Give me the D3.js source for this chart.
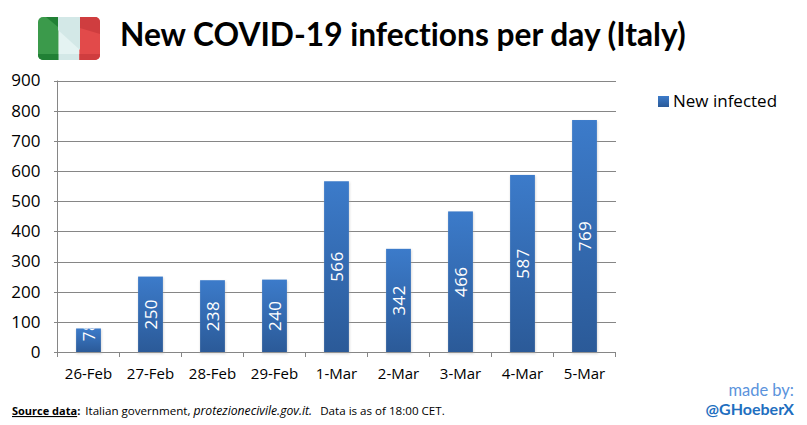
<!DOCTYPE html>
<html>
<head>
<meta charset="utf-8">
<script src="https://cdn.jsdelivr.net/npm/d3@7"></script>
<style>
body { margin: 0; background: #fff; }
text { font-family: "Open Sans", "Noto Sans", sans-serif; }
</style>
</head>
<body>
<script>
const days = ["26-Feb", "27-Feb", "28-Feb", "29-Feb", "1-Mar", "2-Mar", "3-Mar", "4-Mar", "5-Mar"];
const newInfected = [78, 250, 238, 240, 566, 342, 466, 587, 769];
const yTicks = [0, 100, 200, 300, 400, 500, 600, 700, 800, 900];

const w = 807;
const h = 425;

const svg = d3.select("body")
	.append("svg")
	.attr("width", w)
	.attr("height", h);

const xScale = d3.scaleBand()
	.domain(days)
	.range([57.5, 615.5])
	.paddingInner(0.6)
	.paddingOuter(0.3);

const yScale = d3.scaleLinear()
	.domain([0, 900])
	.range([352, 80.5]);

const defs = svg.append("defs");

const grad = defs.append("linearGradient")
	.attr("id", "barFill")
	.attr("x1", 0).attr("y1", 0).attr("x2", 0).attr("y2", 1);
grad.append("stop").attr("offset", "0%").attr("stop-color", "#3c7bca");
grad.append("stop").attr("offset", "100%").attr("stop-color", "#2b5a98");

const blur = defs.append("filter")
	.attr("id", "barShadow")
	.attr("x", "-30%").attr("width", "160%");
blur.append("feGaussianBlur").attr("stdDeviation", 1.2);

// gridlines + axes
const gridAxis = d3.axisLeft(yScale)
	.tickValues(yTicks)
	.tickSize(4)
	.tickFormat(d3.format("d"));

const yG = svg.append("g")
	.attr("transform", "translate(57.5, 0)")
	.call(gridAxis);

yG.selectAll(".tick line").clone()
	.attr("x1", 0)
	.attr("x2", 558)
	.attr("stroke", "#868686");

yG.selectAll("line")
	.attr("stroke", "#868686")
	.attr("shape-rendering", "crispEdges");
yG.select(".domain").attr("stroke", "#868686").attr("d", "M0,80.5V352");
yG.selectAll("text")
	.attr("x", -17)
	.attr("font-size", 17)
	.attr("fill", "#000");

const xG = svg.append("g")
	.attr("transform", "translate(0, 352)")
	.call(d3.axisBottom(xScale).tickSize(0).tickPadding(16));

xG.select(".domain").attr("stroke", "#868686");
xG.selectAll("text")
	.attr("font-size", 15)
	.attr("fill", "#000");

// tick marks sit between the categories
const step = xScale.step();
svg.append("g").selectAll("line")
	.data(d3.range(days.length + 1))
	.enter()
	.append("line")
	.attr("x1", (d) => 57.5 + d * step)
	.attr("x2", (d) => 57.5 + d * step)
	.attr("y1", 352)
	.attr("y2", 357)
	.attr("stroke", "#868686");

// soft shadow behind the bars
svg.append("g").selectAll("rect")
	.data(newInfected)
	.enter()
	.append("rect")
	.attr("x", (d, i) => xScale(days[i]))
	.attr("y", (d) => yScale(d) + 1)
	.attr("width", xScale.bandwidth() + 1)
	.attr("height", (d) => yScale(0) - yScale(d) + 1)
	.attr("fill", "#aaa")
	.attr("opacity", 0.4)
	.attr("filter", "url(#barShadow)");

svg.append("g").selectAll("rect")
	.data(newInfected)
	.enter()
	.append("rect")
	.attr("x", (d, i) => xScale(days[i]))
	.attr("y", (d) => yScale(d))
	.attr("width", xScale.bandwidth())
	.attr("height", (d) => yScale(0) - yScale(d))
	.attr("fill", "url(#barFill)");

// value labels are cut off at the bar top, as in the original
defs.selectAll("clipPath")
	.data(newInfected)
	.enter()
	.append("clipPath")
	.attr("id", (d, i) => "barClip" + i)
	.append("rect")
	.attr("x", (d, i) => xScale(days[i]))
	.attr("y", (d) => yScale(d))
	.attr("width", xScale.bandwidth())
	.attr("height", (d) => yScale(0) - yScale(d));

// the short bar's label starts 12px above the axis, so it overflows the bar
const labelY = (d) => d < 100 ? yScale(0) - 21 : (yScale(d) + yScale(0)) / 2;

svg.append("g").selectAll("g")
	.data(newInfected)
	.enter()
	.append("g")
	.attr("clip-path", (d, i) => "url(#barClip" + i + ")")
	.append("text")
	.attr("transform", (d, i) => "translate(" + (xScale(days[i]) + xScale.bandwidth() / 2) + "," + labelY(d) + ") rotate(-90)")
	.attr("text-anchor", "middle")
	.attr("dy", "0.36em")
	.attr("font-size", 17)
	.attr("letter-spacing", 0.4)
	.attr("fill", "#fff")
	.text((d) => d);

// flag
const flagColors = ["#3b9a4b", "#e4f3f2", "#e24a4a"];
const flagShade = ["#218035", "#d3e8e7", "#cf3d3f"];
const flagX = d3.scaleBand().domain(d3.range(3)).range([38, 100]);
defs.append("clipPath").attr("id", "flagClip")
	.append("rect").attr("x", 38).attr("y", 17).attr("width", 62).attr("height", 43).attr("rx", 5);
const flagG = svg.append("g").attr("clip-path", "url(#flagClip)");
flagG.selectAll(".stripe")
	.data(flagColors)
	.enter()
	.append("rect")
	.attr("class", "stripe")
	.attr("x", (d, i) => flagX(i))
	.attr("y", 17)
	.attr("width", flagX.bandwidth())
	.attr("height", 43)
	.attr("fill", (d) => d);
flagG.append("path").attr("d", "M46,17H58V27Z").attr("fill", "#218035");
flagG.append("path").attr("d", "M58,17H80V50L58,30Z").attr("fill", "#d3e8e7");
flagG.append("path").attr("d", "M80,17H100V34L80,28Z").attr("fill", "#cf3d3f");
flagG.selectAll(".band")
	.data(flagShade)
	.enter()
	.append("rect")
	.attr("class", "band")
	.attr("x", (d, i) => flagX(i))
	.attr("y", 54)
	.attr("width", flagX.bandwidth())
	.attr("height", 6)
	.attr("fill", (d) => d);

// title
svg.append("text")
	.attr("x", 120)
	.attr("y", 46)
	.attr("font-size", 31.7)
	.attr("font-weight", 700)
	.attr("fill", "#000")
	.style("font-family", "Lato, sans-serif")
	.style("font-variant-ligatures", "none")
	.text("New COVID-19 infections per day (Italy)");

// legend
svg.append("rect")
	.attr("x", 658)
	.attr("y", 96)
	.attr("width", 11)
	.attr("height", 11)
	.attr("fill", "url(#barFill)");

svg.append("text")
	.attr("x", 673)
	.attr("y", 107)
	.attr("font-size", 17)
	.attr("fill", "#000")
	.text("New infected");

// footer
const src = svg.append("text")
	.attr("x", 12)
	.attr("y", 415)
	.attr("font-size", 11.6)
	.attr("fill", "#000");
src.append("tspan").attr("font-weight", 700).attr("font-size", 11).attr("text-decoration", "underline").text("Source data");
src.append("tspan").attr("font-weight", 700).attr("font-size", 11).text(":");
src.append("tspan").attr("dx", 5).text("Italian government, ");
src.append("tspan").attr("font-style", "italic").attr("font-size", 12.2).text("protezionecivile.gov.it.");
src.append("tspan").attr("dx", 8).text("Data is as of 18:00 CET.");

svg.append("text")
	.attr("x", 794)
	.attr("y", 396)
	.attr("text-anchor", "end")
	.attr("font-size", 16.5)
	.attr("fill", "#5b93dc")
	.style("font-family", "Lato, sans-serif")
	.text("made by:");

svg.append("text")
	.attr("x", 794)
	.attr("y", 415)
	.attr("text-anchor", "end")
	.attr("font-size", 16)
	.attr("font-weight", 700)
	.attr("fill", "#1f6fc0")
	.style("font-family", "Lato, sans-serif")
	.text("@GHoeberX");
</script>
</body>
</html>
